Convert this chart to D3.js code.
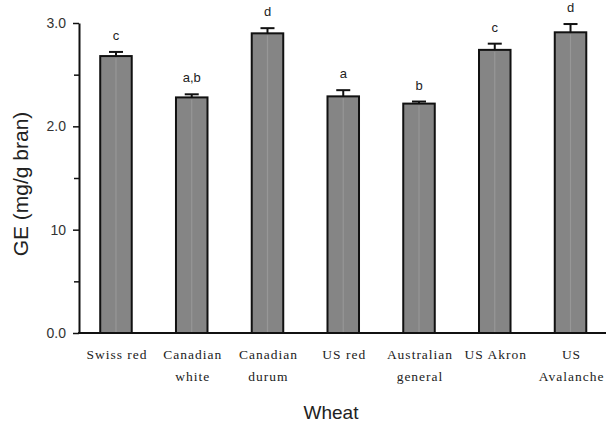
<!DOCTYPE html>
<html>
<head>
<meta charset="utf-8">
<script src="https://cdn.jsdelivr.net/npm/d3@7"></script>
<style>
  html, body { margin: 0; padding: 0; background: #fff; }
  svg { display: block; }
</style>
</head>
<body>
<svg id="chart" width="606" height="423"></svg>
<script>
// Wheat varieties and their bran GE content (mg/g bran), with error and significance groups
const categories = [["Swiss red"], ["Canadian", "white"], ["Canadian", "durum"], ["US red"],
                    ["Australian", "general"], ["US Akron"], ["US", "Avalanche"]];
const values = [2.68, 2.28, 2.90, 2.29, 2.22, 2.74, 2.91];
const errors = [0.04, 0.03, 0.05, 0.06, 0.02, 0.06, 0.08];
const groups = ["c", "a,b", "d", "a", "b", "c", "d"];
const yTickValues = [0, 1, 2, 3];
const yTickLabels = ["0.0", "10", "2.0", "3.0"];
const yMinorTicks = [0.5, 1.5, 2.5];

const svg = d3.select("#chart");
const axisX = 79, baseY = 333, topY = 23;

const x = d3.scaleBand()
  .domain(d3.range(categories.length))
  .range([78.1, 608.4])
  .paddingInner(0.584)
  .paddingOuter(0.292);

const y = d3.scaleLinear().domain([0, 3]).range([baseY, topY]);
const cx = i => x(i) + x.bandwidth() / 2;

// bars
svg.append("g").selectAll("rect")
  .data(values)
  .join("rect")
  .attr("x", (d, i) => x(i))
  .attr("y", d => y(d))
  .attr("width", x.bandwidth())
  .attr("height", d => y(0) - y(d))
  .attr("fill", "#858585")
  .attr("stroke", "#111")
  .attr("stroke-width", 2);

// faint light stripe inside each bar
svg.append("g").selectAll("line")
  .data(values)
  .join("line")
  .attr("x1", (d, i) => cx(i))
  .attr("x2", (d, i) => cx(i))
  .attr("y1", d => y(d) + 2)
  .attr("y2", y(0) - 1)
  .attr("stroke", "#979797")
  .attr("stroke-width", 1.2);

// error bars (upper only)
const eb = svg.append("g").attr("stroke", "#111").attr("stroke-width", 2);
values.forEach((v, i) => {
  eb.append("line").attr("x1", cx(i)).attr("x2", cx(i)).attr("y1", y(v)).attr("y2", y(v + errors[i]));
  eb.append("line").attr("x1", cx(i) - 7).attr("x2", cx(i) + 7).attr("y1", y(v + errors[i])).attr("y2", y(v + errors[i]));
});

// significance letters
svg.append("g").selectAll("text")
  .data(groups)
  .join("text")
  .attr("x", (d, i) => cx(i))
  .attr("y", (d, i) => y(values[i] + errors[i]) - 12)
  .attr("text-anchor", "middle")
  .attr("font-family", "Arial, 'Liberation Sans', sans-serif")
  .attr("font-size", 13)
  .attr("fill", "#222")
  .text(d => d);

// y axis
const yAxis = d3.axisLeft(y)
  .tickValues(yTickValues)
  .tickFormat((d, i) => yTickLabels[i])
  .tickSize(6)
  .tickSizeOuter(0)
  .tickPadding(7);
const gy = svg.append("g").attr("transform", `translate(${axisX},0)`).call(yAxis);
gy.select(".domain").attr("stroke", "#111").attr("stroke-width", 2);
gy.selectAll(".tick line").attr("stroke", "#111").attr("stroke-width", 1.5);
gy.selectAll(".tick text")
  .attr("font-family", "Arial, 'Liberation Sans', sans-serif")
  .attr("font-size", 14)
  .attr("fill", "#333");

const gyMinor = svg.append("g").attr("transform", `translate(${axisX},0)`)
  .call(d3.axisLeft(y).tickValues(yMinorTicks).tickFormat("").tickSize(5).tickSizeOuter(0));
gyMinor.select(".domain").remove();
gyMinor.selectAll(".tick line").attr("stroke", "#111").attr("stroke-width", 1.5);

// x axis baseline
svg.append("line")
  .attr("x1", axisX - 1).attr("x2", 606)
  .attr("y1", baseY).attr("y2", baseY)
  .attr("stroke", "#111").attr("stroke-width", 2);

// category labels
const xl = svg.append("g")
  .attr("font-family", "'Liberation Serif', 'Times New Roman', serif")
  .attr("font-size", 13.5)
  .attr("letter-spacing", 1)
  .attr("fill", "#222")
  .attr("text-anchor", "middle");
categories.forEach((lines, i) => {
  const t = xl.append("text").attr("x", cx(i) + 1).attr("y", 359);
  lines.forEach((ln, j) => {
    t.append("tspan").attr("x", cx(i) + 1).attr("dy", j === 0 ? 0 : 22).text(ln);
  });
});

// axis titles
svg.append("text")
  .attr("x", 331).attr("y", 419)
  .attr("text-anchor", "middle")
  .attr("font-family", "Arial, 'Liberation Sans', sans-serif")
  .attr("font-size", 19)
  .attr("fill", "#222")
  .text("Wheat");

svg.append("text")
  .attr("transform", "translate(28,184) rotate(-90)")
  .attr("text-anchor", "middle")
  .attr("font-family", "Arial, 'Liberation Sans', sans-serif")
  .attr("font-size", 21)
  .attr("fill", "#222")
  .text("GE (mg/g bran)");
</script>
</body>
</html>
